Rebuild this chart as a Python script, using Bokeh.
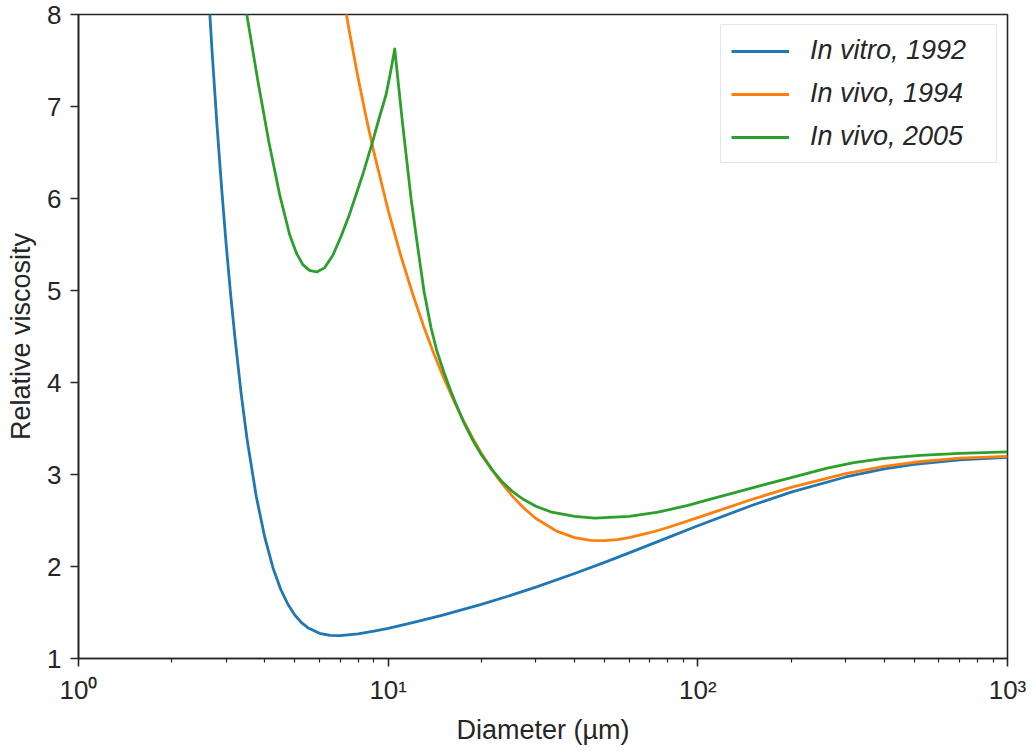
from bokeh.plotting import figure
from bokeh.models import FixedTicker, ColumnDataSource
from bokeh.embed import file_html
from bokeh.resources import INLINE

# ---- data ----
vitro_d = [2.6, 2.7, 2.8, 2.9, 3.0, 3.1, 3.2, 3.35, 3.5, 3.75, 4.0, 4.25, 4.5, 4.75,
           5.0, 5.25, 5.5, 6.0, 6.5, 7.0, 8.0, 9.0, 10, 12, 15, 20, 25, 30, 40, 50,
           60, 80, 100, 150, 200, 300, 400, 500, 700, 1000]
vitro_v = [8.51, 7.60, 6.80, 6.105, 5.49, 4.956, 4.49, 3.884, 3.39, 2.76, 2.31, 1.982,
           1.75, 1.587, 1.47, 1.39, 1.335, 1.274, 1.251, 1.248, 1.267, 1.297, 1.328,
           1.389, 1.471, 1.588, 1.688, 1.776, 1.924, 2.045, 2.148, 2.314, 2.443,
           2.666, 2.808, 2.973, 3.060, 3.110, 3.160, 3.186]

vivo94_d = [7.0, 7.2, 7.5, 8.0, 8.5, 9.0, 10, 11, 12, 13, 14, 15, 16.25, 17.5, 18.75,
            20, 22.5, 25, 27.5, 30, 35, 40, 45, 50, 55, 60, 70, 80, 100, 150, 200,
            300, 400, 500, 700, 1000]
vivo94_v = [8.407, 8.156, 7.811, 7.307, 6.874, 6.498, 5.872, 5.372, 4.962, 4.618,
            4.326, 4.076, 3.810, 3.586, 3.394, 3.231, 2.970, 2.776, 2.631, 2.522,
            2.384, 2.314, 2.285, 2.282, 2.293, 2.314, 2.367, 2.424, 2.532, 2.731,
            2.860, 3.010, 3.089, 3.133, 3.177, 3.198]

vivo05_d = [3.418, 3.495, 3.792, 4.113, 4.462, 4.805, 5.061, 5.302, 5.572, 5.883,
            6.228, 6.622, 7.047, 7.492, 8.269, 8.903, 9.355, 9.831, 10.149, 10.5,
            11.117, 11.858, 12.398, 13.054, 13.749, 14.374, 15.136, 15.94, 16.54,
            17.5, 18.75, 20, 21.65, 23.3, 25, 26.4, 27.5, 30, 33.75, 40, 46.5, 60,
            74.4, 92.9, 107.7, 150, 194.7, 261.8, 319, 400, 522, 700, 1000]
vivo05_v = [8.19, 8.0, 7.286, 6.626, 6.042, 5.609, 5.403, 5.281, 5.219, 5.201,
            5.246, 5.38, 5.59, 5.822, 6.255, 6.615, 6.875, 7.12, 7.351, 7.625,
            6.831, 5.998, 5.522, 4.992, 4.598, 4.339, 4.112, 3.905, 3.77,
            3.575, 3.375, 3.215, 3.05, 2.925, 2.825, 2.765, 2.725, 2.655, 2.59,
            2.545, 2.525, 2.545, 2.59, 2.665, 2.725, 2.855, 2.955, 3.07, 3.13,
            3.175, 3.207, 3.23, 3.245]

series_labels = ["In vitro, 1992", "In vivo, 1994", "In vivo, 2005"]
series_colors = ["#1f77b4", "#ff7f0e", "#2ca02c"]

x_major = [1, 10, 100, 1000]
x_major_labels = ["10\u2070", "10\u00b9", "10\u00b2", "10\u00b3"]
x_minor = [m * 10 ** e for e in range(3) for m in range(2, 10)]
y_major = [1, 2, 3, 4, 5, 6, 7, 8]

FONT = "Liberation Sans"
DARK = "#262626"

p = figure(width=1027, height=747, x_axis_type="log",
           x_range=(1, 1000), y_range=(1, 8),
           output_backend="svg", toolbar_location=None,
           min_border_left=78, min_border_right=20,
           min_border_top=14, min_border_bottom=88)

p.background_fill_color = "white"
p.border_fill_color = "white"
p.outline_line_color = DARK
p.outline_line_width = 1.6
p.xgrid.visible = False
p.ygrid.visible = False

for d, v, lab, col in zip([vitro_d, vivo94_d, vivo05_d],
                          [vitro_v, vivo94_v, vivo05_v],
                          series_labels, series_colors):
    src = ColumnDataSource(dict(x=d, y=v))
    p.line("x", "y", source=src, line_color=col, line_width=2.8,
           line_join="round", legend_label=lab)

# axes
p.xaxis.ticker = FixedTicker(ticks=x_major, minor_ticks=x_minor)
p.xaxis.major_label_overrides = {t: s for t, s in zip(x_major, x_major_labels)}
p.yaxis.ticker = FixedTicker(ticks=y_major)

for ax in (p.xaxis[0], p.yaxis[0]):
    ax.axis_line_color = DARK
    ax.axis_line_width = 1.6
    ax.major_tick_line_color = DARK
    ax.major_tick_line_width = 1.6
    ax.minor_tick_line_width = 1.2
    ax.major_tick_in = 0
    ax.major_tick_out = 8
    ax.minor_tick_in = 0
    ax.minor_tick_out = 4
    ax.major_label_text_font = FONT
    ax.major_label_text_font_size = "26px"
    ax.major_label_text_color = DARK
    ax.axis_label_text_font = FONT
    ax.axis_label_text_font_size = "27px"
    ax.axis_label_text_font_style = "normal"
    ax.axis_label_text_color = DARK

p.xaxis.minor_tick_line_color = DARK
p.yaxis.minor_tick_line_color = None

p.xaxis.axis_label = "Diameter (\u00b5m)"
p.yaxis.axis_label = "Relative viscosity"
p.xaxis.major_label_standoff = 8
p.xaxis.axis_label_standoff = 7
p.yaxis.major_label_standoff = 9
p.yaxis.axis_label_standoff = 8

# legend
lg = p.legend[0]
lg.location = "top_right"
lg.margin = 10
lg.padding = 10
lg.spacing = 12
lg.glyph_width = 58
lg.glyph_height = 30
lg.label_height = 30
lg.label_width = 176
lg.label_standoff = 21
lg.label_text_font = FONT
lg.label_text_font_size = "27px"
lg.label_text_font_style = "italic"
lg.label_text_color = DARK
lg.border_line_color = "#cccccc"
lg.border_line_width = 1.3
lg.background_fill_color = "white"
lg.background_fill_alpha = 0.8

open("out.html", "w").write(file_html(p, INLINE))
